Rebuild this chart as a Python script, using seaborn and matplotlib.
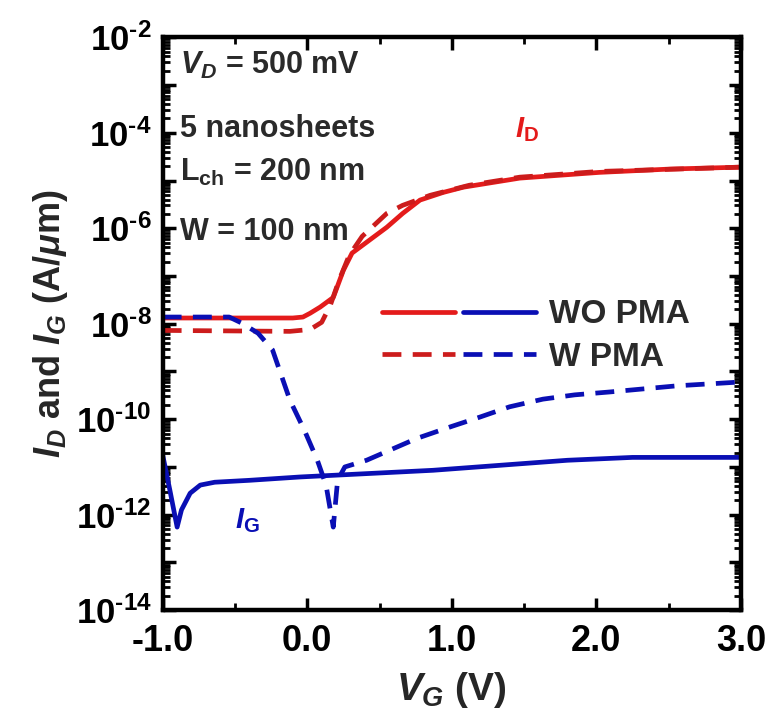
import numpy as np
import pandas as pd
import matplotlib
matplotlib.use("Agg")
import matplotlib.pyplot as plt
import matplotlib.ticker as mticker
from matplotlib.legend_handler import HandlerTuple
import seaborn as sns

# I_D without PMA (solid red)
vg_id_wo = [-1.0, -0.10, -0.03, 0.02, 0.09, 0.18, 0.25, 0.31, 0.43, 0.55, 0.66, 0.78, 0.94, 1.08, 1.47, 2.02, 2.51, 3.0]
log_id_wo = [-7.88, -7.88, -7.86, -7.78, -7.65, -7.45, -6.88, -6.52, -6.25, -5.98, -5.69, -5.41, -5.25, -5.14, -4.95, -4.83, -4.76, -4.72]

# I_D with PMA (dashed red)
vg_id_w = [-1.0, -0.12, 0.02, 0.10, 0.16, 0.22, 0.29, 0.38, 0.55, 0.66, 0.85, 1.12, 1.47, 2.02, 3.0]
log_id_w = [-8.14, -8.16, -8.12, -7.97, -7.61, -7.09, -6.57, -6.17, -5.69, -5.52, -5.31, -5.10, -4.93, -4.81, -4.72]

# I_G without PMA (solid blue)
vg_ig_wo = [-1.0, -0.95, -0.90, -0.87, -0.81, -0.74, -0.64, -0.40, -0.05, 0.87, 1.80, 2.25, 3.0]
log_ig_wo = [-10.75, -11.49, -12.26, -11.90, -11.55, -11.38, -11.32, -11.28, -11.21, -11.07, -10.86, -10.80, -10.80]

# I_G with PMA (dashed blue)
vg_ig_w = [-1.0, -0.54, -0.45, -0.34, -0.24, -0.12, -0.02, 0.07, 0.13, 0.18, 0.21, 0.26, 0.41, 0.76, 1.0, 1.19, 1.40, 1.63, 1.85, 2.09, 2.56, 3.0]
log_ig_w = [-7.86, -7.86, -7.99, -8.20, -8.55, -9.60, -10.23, -10.86, -11.38, -12.26, -11.28, -11.0, -10.86, -10.40, -10.15, -9.96, -9.74, -9.58, -9.49, -9.43, -9.30, -9.22]

RED = "#e41b1b"
RED_D = "#cc1c1c"
BLUE = "#0a0fb4"
TXT = "#2a2a2a"

sns.set_theme(style="ticks")
plt.rcParams["font.family"] = ["Liberation Sans", "DejaVu Sans"]
plt.rcParams["font.weight"] = "bold"
plt.rcParams["mathtext.fontset"] = "custom"
plt.rcParams["mathtext.rm"] = "Liberation Sans:bold"
plt.rcParams["mathtext.it"] = "Liberation Sans:italic:bold"
plt.rcParams["mathtext.bf"] = "Liberation Sans:bold"

fig = plt.figure(figsize=(7.71, 7.17), dpi=100)
ax = fig.add_axes([0.211, 0.149, 0.750, 0.799])

series = [
    (vg_id_wo, log_id_wo, RED, "-"),
    (vg_ig_wo, log_ig_wo, BLUE, "-"),
    (vg_id_w, log_id_w, RED_D, (0, (4, 2.4))),
    (vg_ig_w, log_ig_w, BLUE, (0, (4, 2.4))),
]
lines = []
for vg, lg, col, ls in series:
    df = pd.DataFrame({"VG": vg, "I": 10 ** np.array(lg)})
    sns.lineplot(data=df, x="VG", y="I", ax=ax, color=col, linewidth=3.4,
                 linestyle=ls, estimator=None, sort=False)
    lines.append(ax.get_lines()[-1])

ax.set_yscale("log")
ax.set_xlim(-1.0, 3.0)
ax.set_ylim(1e-14, 1e-2)

ax.xaxis.set_major_locator(mticker.FixedLocator([-1, 0, 1, 2, 3]))
ax.xaxis.set_minor_locator(mticker.MultipleLocator(0.5))
ax.xaxis.set_major_formatter(mticker.FuncFormatter(lambda v, p: f"{v:.1f}".replace("\u2212", "-")))

ax.yaxis.set_major_locator(mticker.LogLocator(base=10, numticks=20))
ax.yaxis.set_minor_locator(mticker.LogLocator(base=10, subs=np.arange(2, 10), numticks=20))
def ylab(v, p):
    e = int(round(np.log10(v)))
    return f"10$^{{\u2010{abs(e)}}}$" if e % 2 == 0 else ""
ax.yaxis.set_major_formatter(mticker.FuncFormatter(ylab))
ax.yaxis.set_minor_formatter(mticker.NullFormatter())

ax.tick_params(which="both", direction="in", top=True, right=True, colors="black")
ax.tick_params(which="major", length=9, width=2.5, pad=8)
ax.tick_params(axis="y", which="major", labelsize=25)
ax.tick_params(axis="x", which="major", labelsize=26, pad=10)
ax.tick_params(which="minor", length=5, width=2)
for lab in ax.get_xticklabels() + ax.get_yticklabels():
    lab.set_fontweight("bold")
for s in ax.spines.values():
    s.set_linewidth(3.2)
    s.set_color("black")

ax.set_xlabel("$V_G$ (V)", fontsize=28, fontweight="bold")
ax.set_ylabel("$I_D$ and $I_G$ (A/$\\mu$m)", fontsize=26, fontweight="bold")
ax.xaxis.set_label_coords(0.5, -0.105)
ax.yaxis.set_label_coords(-0.16, 0.5)

ax.text(0.03, 0.951, "$V_D$ = 500 mV", transform=ax.transAxes, fontsize=22, color=TXT, va="center")
ax.text(0.03, 0.840, "5 nanosheets", transform=ax.transAxes, fontsize=22, color=TXT, va="center")
ax.text(0.03, 0.764, "L$_{\\mathrm{ch}}$ = 200 nm", transform=ax.transAxes, fontsize=22, color=TXT, va="center")
ax.text(0.03, 0.660, "W = 100 nm", transform=ax.transAxes, fontsize=22, color=TXT, va="center")
ax.text(0.61, 0.838, "$I_{\\mathrm{D}}$", transform=ax.transAxes, fontsize=21, color=RED, va="center")
ax.text(0.125, 0.157, "$I_{\\mathrm{G}}$", transform=ax.transAxes, fontsize=21, color=BLUE, va="center")

leg = ax.legend(handles=[(lines[0], lines[1]), (lines[2], lines[3])],
                labels=["WO PMA", "W PMA"],
                handler_map={tuple: HandlerTuple(ndivide=None, pad=0.25)},
                handlelength=4.6, handletextpad=0.4, labelspacing=0.35,
                frameon=False, fontsize=24, loc="upper left",
                bbox_to_anchor=(0.328, 0.595))
for t in leg.get_texts():
    t.set_color(TXT)
    t.set_fontweight("bold")

fig.savefig("out.png", dpi=100)
